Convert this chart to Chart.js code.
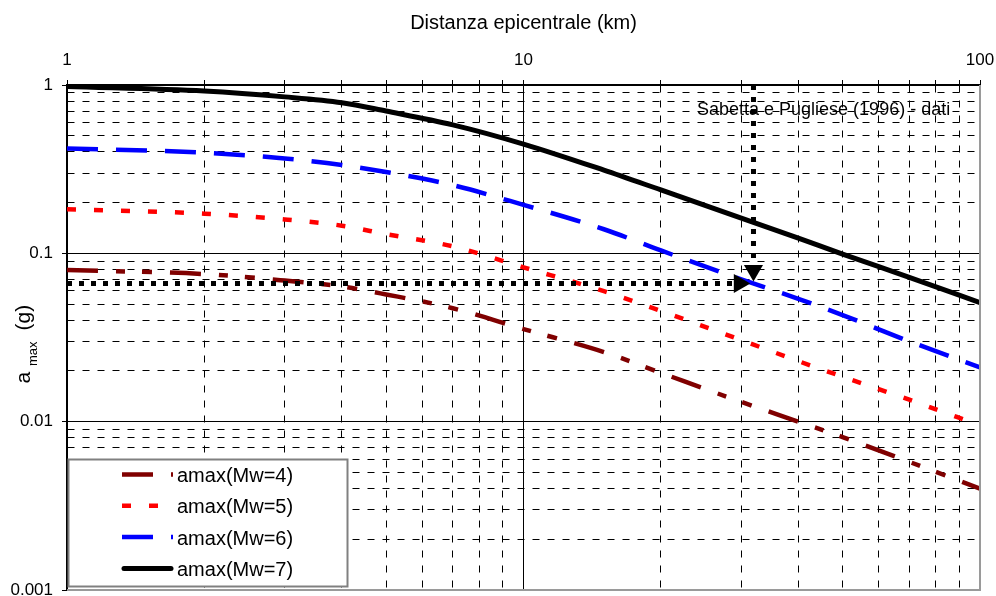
<!DOCTYPE html>
<html>
<head>
<meta charset="utf-8">
<script src="https://cdn.jsdelivr.net/npm/chart.js@4.4.1/dist/chart.umd.min.js"></script>
<style>
  html, body { margin: 0; padding: 0; background: #fff; }
  #wrap { width: 996px; height: 596px; }
</style>
</head>
<body>
<div id="wrap"><canvas id="chart" width="996" height="596"></canvas></div>
<script>
const FONT = "'Liberation Sans', Arial, sans-serif";

// distanza epicentrale (km)
const distances = [1, 2, 3, 4, 5, 7, 10, 15, 20, 30, 40, 50, 70, 100];

// amax (g)
const amaxMw4 = [0.0795, 0.0753, 0.0689, 0.0635, 0.0570, 0.0472, 0.0355, 0.0259, 0.0195, 0.0131, 0.0100, 0.0081, 0.00577, 0.0040];
const amaxMw5 = [0.183, 0.172, 0.159, 0.146, 0.130, 0.110, 0.0826, 0.0596, 0.0455, 0.0305, 0.0229, 0.0185, 0.0135, 0.0095];
const amaxMw6 = [0.420, 0.396, 0.366, 0.335, 0.304, 0.254, 0.194, 0.139, 0.104, 0.070, 0.0537, 0.043, 0.030, 0.021];
const amaxMw7 = [0.980, 0.920, 0.850, 0.785, 0.700, 0.580, 0.446, 0.312, 0.238, 0.162, 0.123, 0.099, 0.072, 0.051];

const seriesLabels = ['amax(Mw=4)', 'amax(Mw=5)', 'amax(Mw=6)', 'amax(Mw=7)'];

// lettura sul grafico (frecce tratteggiate)
const readHorizX = [1, 29.7];
const readHorizY = [0.0662, 0.0662];
const readVertX = [31.9, 31.9];
const readVertY = [1, 0.079];
const noteText = 'Sabetta e Pugliese (1996) - dati';

const xTickValues = [1, 10, 100];
const xTickLabels = ['1', '10', '100'];
const yTickValues = [0.001, 0.01, 0.1, 1];
const yTickLabels = ['0.001', '0.01', '0.1', '1'];

function isMajor(v) {
  const l = Math.log10(v);
  return Math.abs(l - Math.round(l)) < 1e-6;
}

// 1..9 per decade, without the extra 15/150 ticks chart.js adds
function logTicks(min, max) {
  const out = [];
  for (let e = Math.floor(Math.log10(min)); e <= Math.ceil(Math.log10(max)); e++) {
    for (let k = 1; k < 10; k++) {
      const v = parseFloat((k * Math.pow(10, e)).toPrecision(6));
      if (v >= min * 0.999999 && v <= max * 1.000001) out.push(v);
    }
  }
  return out;
}

const pts = (xs, ys) => xs.map((x, i) => ({ x: x, y: ys[i] }));

const gridDash = c => (c.tick && !c.tick.major) ? [7, 8] : [];
const setTicks = s => { s.ticks = logTicks(s.min, s.max).map(v => ({ value: v, major: isMajor(v) })); };

const extras = {
  id: 'extras',
  afterDraw(chart) {
    const ctx = chart.ctx;
    const a = chart.chartArea;
    const xScale = chart.scales.x;
    const yScale = chart.scales.y;
    ctx.save();

    // bordo destro / inferiore grigio
    ctx.strokeStyle = '#9a9a9a';
    ctx.lineWidth = 2;
    ctx.beginPath();
    ctx.moveTo(a.right, a.top);
    ctx.lineTo(a.right, a.bottom);
    ctx.lineTo(a.left, a.bottom);
    ctx.stroke();

    // etichette degli assi
    ctx.fillStyle = '#000';
    ctx.font = '17px ' + FONT;
    ctx.textBaseline = 'middle';
    ctx.textAlign = 'right';
    yTickValues.forEach((v, i) => {
      ctx.fillText(yTickLabels[i], a.left - 14, yScale.getPixelForValue(v));
    });
    ctx.textAlign = 'center';
    xTickValues.forEach((v, i) => {
      ctx.fillText(xTickLabels[i], xScale.getPixelForValue(v), a.top - 25);
    });

    // nota
    ctx.textAlign = 'left';
    ctx.font = '18px ' + FONT;
    ctx.fillText(noteText, 697, 110);

    // titolo asse y con pedice
    ctx.save();
    ctx.translate(29.5, 383.5);
    ctx.rotate(-Math.PI / 2);
    ctx.textBaseline = 'alphabetic';
    ctx.font = '21px ' + FONT;
    ctx.fillText('a', 0, 0);
    ctx.font = '13px ' + FONT;
    ctx.fillText('max', 17.5, 7.5);
    ctx.font = '21px ' + FONT;
    ctx.fillText('(g)', 53, 0);
    ctx.restore();

    // legenda
    ctx.fillStyle = '#fff';
    ctx.fillRect(68.5, 459.5, 279, 127);
    ctx.strokeStyle = '#808080';
    ctx.lineWidth = 2;
    ctx.strokeRect(68.5, 459.5, 279, 127);
    chart.data.datasets.slice(0, 4).forEach((ds, i) => {
      const y = 474.5 + i * 31.3;
      ctx.beginPath();
      ctx.setLineDash(ds.borderDash || []);
      ctx.lineDashOffset = 0;
      ctx.strokeStyle = ds.borderColor;
      ctx.lineWidth = ds.borderWidth;
      ctx.lineCap = ds.borderCapStyle || 'butt';
      const round = ds.borderCapStyle === 'round';
      ctx.moveTo(round ? 124 : 122, y);
      ctx.lineTo(round ? 171 : 173, y);
      ctx.stroke();
      ctx.setLineDash([]);
      ctx.fillStyle = '#000';
      ctx.font = '20px ' + FONT;
      ctx.textBaseline = 'middle';
      ctx.fillText(ds.label, 177, y + 2);
    });
    ctx.restore();
  }
};

const curve = (label, ys, color, dash, width) => ({
  label: label,
  data: pts(distances, ys),
  borderColor: color,
  backgroundColor: color,
  borderWidth: width,
  borderDash: dash,
  pointRadius: 0,
  cubicInterpolationMode: 'monotone',
  fill: false,
  order: 1
});

const arrow = (xs, ys, rot) => ({
  label: 'lettura',
  data: pts(xs, ys),
  borderColor: '#000',
  backgroundColor: '#000',
  borderWidth: 5,
  borderDash: [5, 7],
  pointRadius: [0, 11],
  pointStyle: 'triangle',
  rotation: [0, rot],
  pointBorderWidth: 0,
  fill: false,
  order: 0
});

const black7 = curve(seriesLabels[3], amaxMw7, '#000000', [], 5);
black7.borderCapStyle = 'round';

new Chart(document.getElementById('chart'), {
  type: 'line',
  data: {
    datasets: [
      curve(seriesLabels[0], amaxMw4, '#800000', [31, 18, 9, 17, 10, 18], 4.5),
      curve(seriesLabels[1], amaxMw5, '#ff0000', [9, 18], 4.5),
      curve(seriesLabels[2], amaxMw6, '#0000ff', [31, 18], 4.5),
      black7,
      arrow(readHorizX, readHorizY, 90),
      arrow(readVertX, readVertY, 180)
    ]
  },
  options: {
    responsive: false,
    animation: false,
    layout: { autoPadding: false, padding: { left: 0, right: 16, top: 0, bottom: 6 } },
    plugins: { legend: { display: false }, tooltip: { enabled: false } },
    scales: {
      x: {
        type: 'logarithmic',
        position: 'top',
        min: 1,
        max: 100,
        afterBuildTicks: setTicks,
        afterFit: s => { s.height = 85; },
        title: {
          display: true,
          text: 'Distanza epicentrale (km)',
          color: '#000',
          font: { family: FONT, size: 20 },
          padding: { top: 11, bottom: 0 }
        },
        ticks: { display: false, autoSkip: false },
        grid: { color: '#000', lineWidth: 1, tickLength: 5, tickColor: '#000' },
        border: { color: '#000', width: 1.5, dash: gridDash }
      },
      y: {
        type: 'logarithmic',
        min: 0.001,
        max: 1,
        afterBuildTicks: setTicks,
        afterFit: s => { s.width = 67; },
        ticks: { display: false, autoSkip: false },
        grid: {
          color: '#000',
          lineWidth: 1,
          tickLength: 5,
          tickColor: c => (c.tick && c.tick.major) ? '#000' : 'rgba(0,0,0,0)'
        },
        border: { color: '#000', width: 1.5, dash: gridDash }
      }
    }
  },
  plugins: [extras]
});
</script>
</body>
</html>
